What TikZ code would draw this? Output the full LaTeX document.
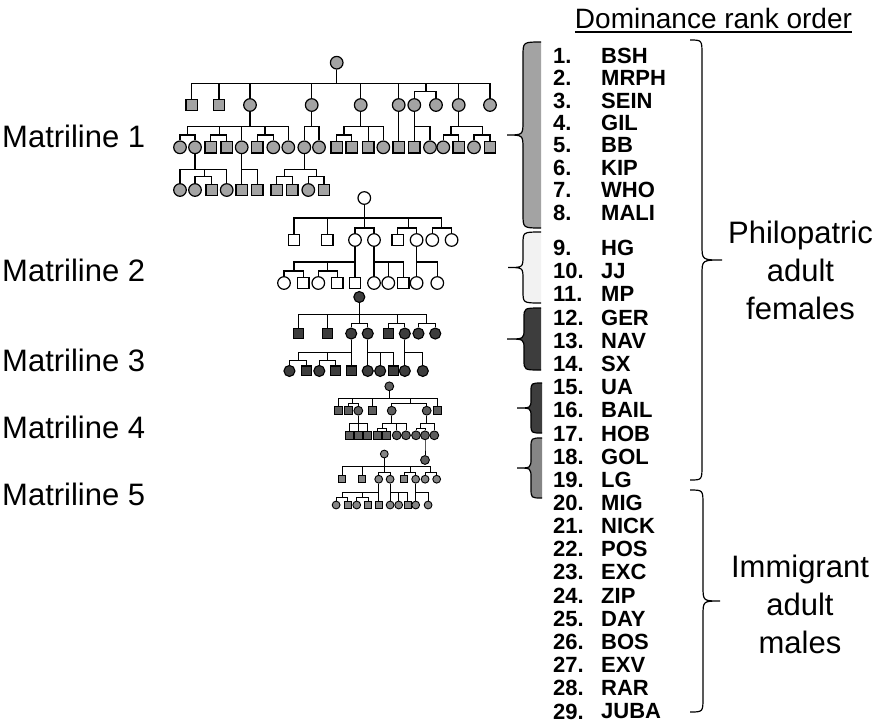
\documentclass[tikz,border=0pt]{standalone}
\usepackage{fontspec}
\setmainfont{Liberation Sans}
\usepackage{xcolor}

\definecolor{mlone}{HTML}{A3A3A3}
\definecolor{mltwo}{HTML}{F2F2F2}
\definecolor{mlthree}{HTML}{3D3D3D}
\definecolor{mlfour}{HTML}{5E5E5E}
\definecolor{mlfive}{HTML}{858585}

\tikzset{
  fem/.style={circle, draw, fill=\mlfill, minimum size=\mlsize, inner sep=0pt},
  male/.style={rectangle, draw, fill=\mlfill, minimum size=0.9*\mlsize, inner sep=0pt},
  mlabel/.style={anchor=base west, inner sep=0pt, font=\fontsize{31}{38}\selectfont},
  group/.style={align=center, inner sep=0pt, font=\fontsize{31}{38}\selectfont},
  rankno/.style={anchor=west, inner sep=0pt, font=\bfseries\fontsize{22}{24}\selectfont},
}

\newcommand{\kid}[3]{\draw (#1.south) -- (#1 |- 0,#2) -| (#3.north);}
\newcommand{\twin}[5]{\draw (#1.south) -- (#1 |- 0,#2) -| (#3,#4) -| (#5.north);}

\newcommand{\sidebrace}[7]{%
  \pgfmathsetmacro\bym{(#4+#5)/2}
  \draw[line width=1.2pt, #7] (#1,#4) .. controls (#2,#4) .. (#2,#4+#6)
    -- (#2,\bym-#6) .. controls (#2,\bym) .. (#3,\bym)
    .. controls (#2,\bym) .. (#2,\bym+#6)
    -- (#2,#5-#6) .. controls (#2,#5) .. (#1,#5);}

\newcommand{\famtree}[1]{%
  \node[fem] (#1r) at (0,0) {};
  \node[male] (#1a) at (-70.3,42) {};
  \node[male] (#1b) at (-37,42) {};
  \node[fem] (#1c) at (-9.3,42) {};
  \node[fem] (#1d) at (9.7,42) {};
  \node[male] (#1e) at (33.3,42) {};
  \node[fem] (#1f) at (52.3,42) {};
  \node[fem] (#1g) at (68,42) {};
  \node[fem] (#1h) at (87.3,42) {};
  \node[fem] (#1c1) at (-80.3,85) {};
  \node[male] (#1c2) at (-61,85) {};
  \node[fem] (#1c3) at (-46,85) {};
  \node[male] (#1c4) at (-27,85) {};
  \node[male] (#1c5) at (-9.3,85) {};
  \node[fem] (#1d1) at (9.7,85) {};
  \node[fem] (#1d2) at (24,85) {};
  \node[male] (#1d3) at (39,85) {};
  \node[fem] (#1f1) at (52.3,85) {};
  \node[fem] (#1f2) at (73,85) {};
  \kid{#1r}{20}{#1a}
  \kid{#1r}{20}{#1b}
  \twin{#1r}{20}{0}{30}{#1c}
  \twin{#1r}{20}{0}{30}{#1d}
  \twin{#1r}{20}{44}{30}{#1e}
  \twin{#1r}{20}{44}{30}{#1f}
  \twin{#1r}{20}{77.3}{30}{#1g}
  \twin{#1r}{20}{77.3}{30}{#1h}
  \twin{#1c}{64}{-70.3}{73}{#1c1}
  \twin{#1c}{64}{-70.3}{73}{#1c2}
  \twin{#1c}{64}{-37}{73}{#1c3}
  \twin{#1c}{64}{-37}{73}{#1c4}
  \kid{#1c}{64}{#1c5}
  \kid{#1d}{64}{#1d1}
  \kid{#1d}{64}{#1d2}
  \kid{#1d}{64}{#1d3}
  \kid{#1f}{64}{#1f1}
  \kid{#1f}{64}{#1f2}
}

\begin{document}
\begin{tikzpicture}[x=1pt, y=-1pt]
\path[fill=white, use as bounding box] (0,0) rectangle (880,724);

% Matriline 1
\begin{scope}[line width=1.2pt]
\def\mlfill{mlone}\def\mlsize{12.6pt}
\node[fem] (Ar) at (336.7,62.7) {};
\node[male] (Aa) at (191.7,105) {};
\node[male] (Ab) at (219,105) {};
\node[fem] (Ac) at (250,105) {};
\node[fem] (Ad) at (311.7,105) {};
\node[fem] (Ae) at (360.7,105) {};
\node[fem] (Af) at (398.7,105) {};
\node[fem] (Ag) at (414.3,105) {};
\node[fem] (Ah) at (436,105) {};
\node[fem] (Ai) at (458.7,105) {};
\node[fem] (Aj) at (490,105) {};

\node[fem] (Ac1) at (180,147.3) {};
\node[fem] (Ac2) at (195,147.3) {};
\node[male] (Ac3) at (210.7,147.3) {};
\node[male] (Ac4) at (226.7,147.3) {};
\node[fem] (Ac5) at (241.7,147.3) {};
\node[male] (Ac6) at (257.3,147.3) {};
\node[fem] (Ac7) at (273.3,147.3) {};
\node[fem] (Ac8) at (288.3,147.3) {};
\node[fem] (Ad1) at (304.3,147.3) {};
\node[fem] (Ad2) at (319,147.3) {};
\node[male] (Ae1) at (336.7,147.3) {};
\node[male] (Ae2) at (351.7,147.3) {};
\node[male] (Ae3) at (368.3,147.3) {};
\node[fem] (Ae4) at (383.3,147.3) {};
\node[male] (Af1) at (398.7,147.3) {};
\node[male] (Ag1) at (414.3,147.3) {};
\node[fem] (Ag2) at (430,147.3) {};
\node[fem] (Ai1) at (443.3,147.3) {};
\node[male] (Ai2) at (458.7,147.3) {};
\node[fem] (Ai3) at (474,147.3) {};
\node[male] (Ai4) at (490,147.3) {};

\node[fem] (Ac21) at (180,190) {};
\node[fem] (Ac22) at (195,190) {};
\node[male] (Ac23) at (211.7,190) {};
\node[fem] (Ac24) at (226.7,190) {};
\node[male] (Ac51) at (241.7,190) {};
\node[male] (Ac52) at (257.3,190) {};
\node[male] (Ad11) at (276.7,190) {};
\node[male] (Ad12) at (292.3,190) {};
\node[fem] (Ad13) at (308.3,190) {};
\node[male] (Ad14) at (324,190) {};

\foreach \c in {Aa,Ab,Ac,Ad,Ae,Af,Ai,Aj} {\kid{Ar}{83.3}{\c}}
\twin{Ar}{83.3}{426}{91.7}{Ag}
\twin{Ar}{83.3}{426}{91.7}{Ah}

\twin{Ac}{126.7}{187.3}{135}{Ac1}
\twin{Ac}{126.7}{187.3}{135}{Ac2}
\twin{Ac}{126.7}{219.3}{135}{Ac3}
\twin{Ac}{126.7}{219.3}{135}{Ac4}
\kid{Ac}{126.7}{Ac5}
\twin{Ac}{126.7}{265}{135}{Ac6}
\twin{Ac}{126.7}{265}{135}{Ac7}
\kid{Ac}{126.7}{Ac8}
\kid{Ad}{126.7}{Ad1}
\kid{Ad}{126.7}{Ad2}
\twin{Ae}{126.7}{344}{135}{Ae1}
\twin{Ae}{126.7}{344}{135}{Ae2}
\kid{Ae}{126.7}{Ae3}
\kid{Ae}{126.7}{Ae4}
\kid{Af}{126.7}{Af1}
\kid{Ag}{126.7}{Ag1}
\kid{Ag}{126.7}{Ag2}
\twin{Ai}{126.7}{451}{135}{Ai1}
\twin{Ai}{126.7}{451}{135}{Ai2}
\twin{Ai}{126.7}{482.3}{135}{Ai3}
\twin{Ai}{126.7}{482.3}{135}{Ai4}

\kid{Ac2}{169.3}{Ac21}
\twin{Ac2}{169.3}{204.3}{176.7}{Ac22}
\twin{Ac2}{169.3}{204.3}{176.7}{Ac23}
\kid{Ac2}{169.3}{Ac24}
\kid{Ac5}{169.3}{Ac51}
\kid{Ac5}{169.3}{Ac52}
\twin{Ad1}{169.3}{284.3}{176.7}{Ad11}
\twin{Ad1}{169.3}{284.3}{176.7}{Ad12}
\twin{Ad1}{169.3}{316.7}{176.7}{Ad13}
\twin{Ad1}{169.3}{316.7}{176.7}{Ad14}
\end{scope}

% Matrilines 2, 3 and 5
\begin{scope}[shift={(364.3,198)}, line width=1.2pt]
\def\mlfill{white}\def\mlsize{12.6pt}
\famtree{B}
\end{scope}
\begin{scope}[shift={(359.3,297)}, scale=0.87, line width=1.1pt]
\def\mlfill{mlthree}\def\mlsize{11pt}
\famtree{C}
\end{scope}
\begin{scope}[shift={(384.3,454)}, scale=0.6, line width=0.9pt]
\def\mlfill{mlfive}\def\mlsize{7.8pt}
\famtree{E}
\end{scope}

% Matriline 4
\begin{scope}[line width=0.9pt]
\def\mlfill{mlfour}\def\mlsize{8.8pt}
\node[fem] (Dr) at (389.3,386.3) {};
\node[male] (Da) at (338.3,410.7) {};
\node[male] (Db) at (348.3,410.7) {};
\node[fem] (Dc) at (358.3,410.7) {};
\node[male] (Dd) at (372.7,410.7) {};
\node[fem] (De) at (391.7,410.7) {};
\node[fem] (Df) at (426.7,410.7) {};
\node[male] (Dg) at (437.3,410.7) {};
\node[male] (Dc1) at (349,435.3) {};
\node[male] (Dc2) at (358.3,435.3) {};
\node[male] (Dc3) at (367.7,435.3) {};
\node[male] (De1) at (377.7,435.3) {};
\node[male] (De2) at (386.7,435.3) {};
\node[fem] (De3) at (396.7,435.3) {};
\node[fem] (De4) at (406,435.3) {};
\node[fem] (Df1) at (416,435.3) {};
\node[fem] (Df2) at (425,435.3) {};
\node[fem] (Df3) at (434.3,435.3) {};
\node[fem] (Df21) at (425,460) {};

\kid{Dr}{398.7}{Da}
\twin{Dr}{398.7}{352.3}{403}{Db}
\twin{Dr}{398.7}{352.3}{403}{Dc}
\kid{Dr}{398.7}{Dd}
\twin{Dr}{398.7}{410}{403}{De}
\twin{Dr}{398.7}{410}{403}{Df}
\kid{Dr}{398.7}{Dg}
\kid{Dc}{423.7}{Dc1}
\kid{Dc}{423.7}{Dc2}
\kid{Dc}{423.7}{Dc3}
\twin{De}{423.7}{382.3}{428}{De1}
\twin{De}{423.7}{382.3}{428}{De2}
\kid{De}{423.7}{De3}
\kid{De}{423.7}{De4}
\twin{Df}{423.7}{420}{428}{Df1}
\twin{Df}{423.7}{420}{428}{Df2}
\kid{Df}{423.7}{Df3}
\kid{Df2}{447}{Df21}
\end{scope}

% labels
\node[mlabel] (lab1) at (2,147.7) {Matriline 1};
\node[mlabel] (lab2) at (2,281.7) {Matriline 2};
\node[mlabel] (lab3) at (2,371.7) {Matriline 3};
\node[mlabel] (lab4) at (2,438.3) {Matriline 4};
\node[mlabel] (lab5) at (2,505) {Matriline 5};

% braces
\sidebrace{541}{523}{507}{42}{228}{14}{fill=mlone}
\sidebrace{541}{523}{508}{232}{303}{12}{fill=mltwo}
\sidebrace{541}{524}{507}{308}{370}{10}{fill=mlthree}
\sidebrace{542}{531}{517}{383}{433}{9}{fill=mlthree}
\sidebrace{542}{531}{517}{438}{498}{10}{fill=mlfive}
\sidebrace{690}{702}{722}{40}{480}{15}{}
\sidebrace{690}{703}{720}{490}{712}{15}{}

% rank list
\node[inner sep=0pt, anchor=base, font=\fontsize{28}{34}\selectfont] (title) at (713.5,28) {Dominance rank order};
\draw[line width=1.5pt] ([yshift=-4pt]title.base west) -- ([yshift=-4pt]title.base east);

\foreach \nm [count=\i] in {BSH,MRPH,SEIN,GIL,BB,KIP,WHO,MALI} {
  \node[rankno] (no\i) at (553,{55.7+(\i-1)*22.4}) {\i.};
  \node[rankno] (id\i) at (601,{55.7+(\i-1)*22.4}) {\nm};
}
\foreach \nm [count=\i from 9] in {HG,JJ,MP,GER,NAV,SX,UA,BAIL,HOB,GOL,LG} {
  \node[rankno] (no\i) at (553,{248+(\i-9)*23.2}) {\i.};
  \node[rankno] (id\i) at (601,{248+(\i-9)*23.2}) {\nm};
}
\foreach \nm [count=\i from 20] in {MIG,NICK,POS,EXC,ZIP,DAY,BOS,EXV,RAR,JUBA} {
  \node[rankno] (no\i) at (553,{502.7+(\i-20)*23.2}) {\i.};
  \node[rankno] (id\i) at (601,{502.7+(\i-20)*23.2}) {\nm};
}

\node[group] (phil) at (800.5,270) {Philopatric\\adult\\females};
\node[group] (immi) at (800,604) {Immigrant\\adult\\males};
\end{tikzpicture}
\end{document}
